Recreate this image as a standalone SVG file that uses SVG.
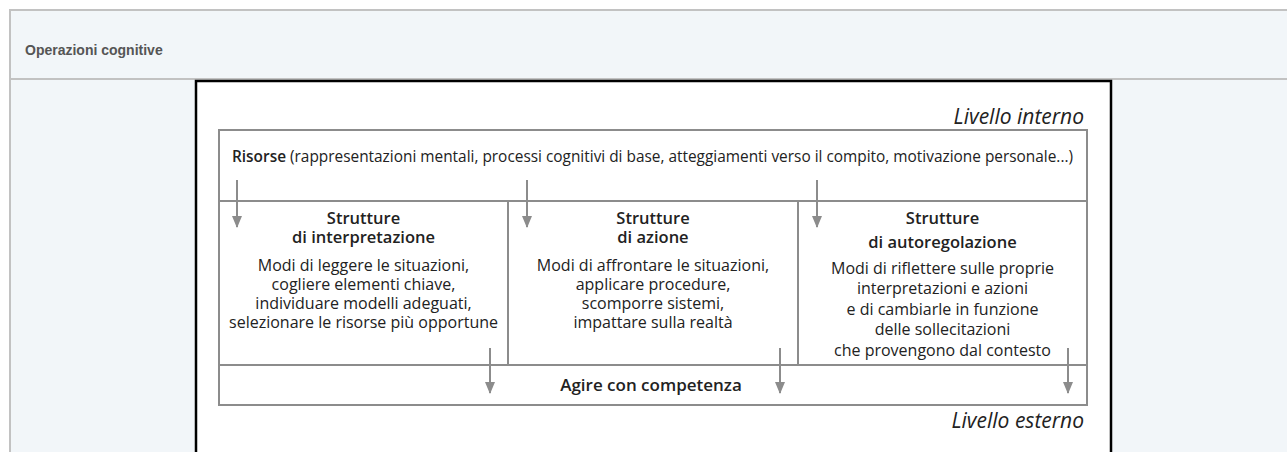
<svg xmlns="http://www.w3.org/2000/svg" width="1287" height="452" viewBox="0 0 1287 452">
  <defs>
    <style>
      .page { fill: #f2f6f9; }
      .rule { stroke: #c2c2c2; stroke-width: 2; fill: none; }
      .hdr { font-family: "Liberation Sans", Arial, sans-serif; font-size: 14px; font-weight: bold; fill: #555555; }
      .frame { fill: #ffffff; stroke: #000000; stroke-width: 2.5; }
      .box { fill: none; stroke: #8c8c8c; stroke-width: 2; }
      .res { font-family: "Open Sans", "Noto Sans", sans-serif; font-size: 15.4px; fill: #222222; }
      .txt { font-family: "Open Sans", "Noto Sans", sans-serif; font-size: 16px; fill: #222222; text-anchor: middle; }
      .ttl { font-family: "Open Sans", "Noto Sans", sans-serif; font-size: 16.5px; font-weight: 600; fill: #222222; text-anchor: middle; }
      .lvl { font-family: "Open Sans", "Noto Sans", sans-serif; font-size: 21px; font-style: italic; fill: #222222; text-anchor: end; }
      .conn { stroke: #8c8c8c; stroke-width: 2; fill: none; }
    </style>
    <marker id="tip" markerUnits="userSpaceOnUse" markerWidth="10" markerHeight="12" refX="5" refY="11" orient="0" viewBox="0 0 10 12">
      <path d="M0,0 L10,0 L5,12 Z" fill="#8c8c8c"/>
    </marker>
  </defs>

  <!-- page table -->
  <rect x="0" y="0" width="1287" height="452" fill="#ffffff"/>
  <rect class="page" x="10" y="10" width="1277" height="442"/>
  <line class="rule" x1="9" y1="10" x2="1287" y2="10"/>
  <line class="rule" x1="10" y1="9" x2="10" y2="452"/>
  <line class="rule" x1="10" y1="79" x2="1287" y2="79"/>
  <text class="hdr" x="25" y="55">Operazioni cognitive</text>

  <!-- figure frame -->
  <rect class="frame" x="196" y="81" width="915" height="380"/>

  <!-- level labels -->
  <text class="lvl" x="1084" y="124">Livello interno</text>
  <text class="lvl" x="1084" y="428">Livello esterno</text>

  <!-- resources band -->
  <g id="risorse">
    <rect class="box" x="219" y="130" width="868" height="71"/>
    <text class="res" x="232" y="162"><tspan font-weight="600">Risorse</tspan> (rappresentazioni mentali, processi cognitivi di base, atteggiamenti verso il compito, motivazione personale...)</text>
  </g>

  <!-- interpretation structures -->
  <g id="interpretazione">
    <rect class="box" x="219" y="201" width="289" height="164"/>
    <text class="ttl" x="363.5" y="224">Strutture</text>
    <text class="ttl" x="363.5" y="243">di interpretazione</text>
    <text class="txt" x="363.5" y="271">Modi di leggere le situazioni,</text>
    <text class="txt" x="363.5" y="290">cogliere elementi chiave,</text>
    <text class="txt" x="363.5" y="309">individuare modelli adeguati,</text>
    <text class="txt" x="363.5" y="328">selezionare le risorse più opportune</text>
  </g>

  <!-- action structures -->
  <g id="azione">
    <rect class="box" x="508" y="201" width="290" height="164"/>
    <text class="ttl" x="653" y="224">Strutture</text>
    <text class="ttl" x="653" y="243">di azione</text>
    <text class="txt" x="653" y="271">Modi di affrontare le situazioni,</text>
    <text class="txt" x="653" y="290">applicare procedure,</text>
    <text class="txt" x="653" y="309">scomporre sistemi,</text>
    <text class="txt" x="653" y="328">impattare sulla realtà</text>
  </g>

  <!-- self-regulation structures -->
  <g id="autoregolazione">
    <rect class="box" x="798" y="201" width="289" height="164"/>
    <text class="ttl" x="942.5" y="224">Strutture</text>
    <text class="ttl" x="942.5" y="248">di autoregolazione</text>
    <text class="txt" x="942.5" y="274">Modi di riflettere sulle proprie</text>
    <text class="txt" x="942.5" y="294">interpretazioni e azioni</text>
    <text class="txt" x="942.5" y="315">e di cambiarle in funzione</text>
    <text class="txt" x="942.5" y="335">delle sollecitazioni</text>
    <text class="txt" x="942.5" y="356">che provengono dal contesto</text>
  </g>

  <!-- competent action band -->
  <g id="agire">
    <rect class="box" x="219" y="365" width="868" height="40"/>
    <text class="ttl" x="651" y="391" style="font-size:17px">Agire con competenza</text>
  </g>

  <!-- connectors -->
  <g id="connectors">
    <line class="conn" x1="237" y1="180" x2="237" y2="227" marker-end="url(#tip)"/>
    <line class="conn" x1="527" y1="180" x2="527" y2="227" marker-end="url(#tip)"/>
    <line class="conn" x1="817" y1="180" x2="817" y2="227" marker-end="url(#tip)"/>
    <line class="conn" x1="490" y1="348" x2="490" y2="393" marker-end="url(#tip)"/>
    <line class="conn" x1="780" y1="348" x2="780" y2="393" marker-end="url(#tip)"/>
    <line class="conn" x1="1068" y1="348" x2="1068" y2="393" marker-end="url(#tip)"/>
  </g>
</svg>
